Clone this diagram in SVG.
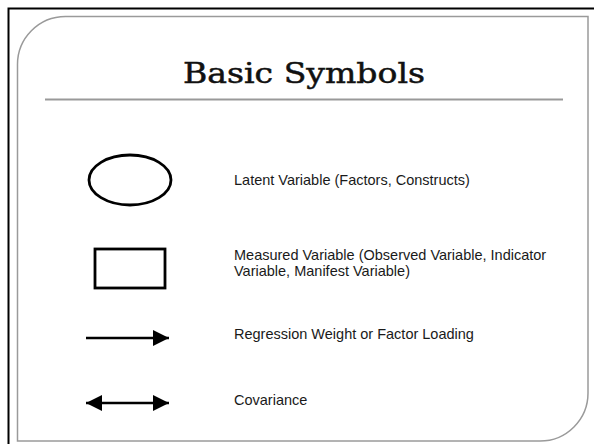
<svg xmlns="http://www.w3.org/2000/svg" width="594" height="444" viewBox="0 0 594 444">
  <style>
    .label { font-family: "Liberation Sans", Arial, sans-serif; font-size: 14.5px; fill: #1a1a1a; }
    .title { font-family: "DejaVu Serif", "Liberation Serif", serif; font-size: 28px; fill: #111; stroke: #111; stroke-width: 0.5; }
    .shape { fill: #fff; stroke: #000; stroke-width: 2.8; }
    .conn { stroke: #000; stroke-width: 2.6; fill: none; }
  </style>
  <defs>
    <marker id="head" viewBox="0 0 16 16" refX="16" refY="8" markerWidth="16" markerHeight="16" markerUnits="userSpaceOnUse" orient="auto-start-reverse">
      <path d="M0,0 L16,8 L0,16 Z" fill="#000"/>
    </marker>
  </defs>
  <rect width="594" height="444" fill="#fff"/>
  <!-- outer frame: only top and left edges are in view -->
  <path d="M8.5,444 L8.5,8.5 L594,8.5" fill="none" stroke="#000" stroke-width="2"/>
  <!-- inner panel with rounded top-left and bottom-right corners -->
  <path d="M17.5,65 A48,48 0 0 1 65.5,16.5 L588,16.5 L588,393 A48,48 0 0 1 540,441 L17.5,441 Z" fill="#fff" stroke="#9a9a9a" stroke-width="1.5"/>
  <!-- title -->
  <g id="title">
    <text class="title" x="304" y="83" text-anchor="middle" textLength="242" lengthAdjust="spacingAndGlyphs">Basic Symbols</text>
    <line x1="45" y1="99.5" x2="563" y2="99.5" stroke="#999" stroke-width="2"/>
  </g>
  <g id="latent">
    <ellipse class="shape" cx="130" cy="180" rx="41" ry="25"/>
    <text class="label" x="234" y="185">Latent Variable (Factors, Constructs)</text>
  </g>
  <g id="measured">
    <rect class="shape" x="95" y="249" width="70" height="39"/>
    <text class="label" x="234" y="260"><tspan x="234" y="260">Measured Variable (Observed Variable, Indicator</tspan><tspan x="234" y="276">Variable, Manifest Variable)</tspan></text>
  </g>
  <g id="connectors">
    <line class="conn" x1="86" y1="338" x2="169" y2="338" marker-end="url(#head)"/>
    <line class="conn" x1="86" y1="403" x2="169" y2="403" marker-start="url(#head)" marker-end="url(#head)"/>
  </g>
  <g id="regression">
    <text class="label" x="234" y="339">Regression Weight or Factor Loading</text>
  </g>
  <g id="covariance">
    <text class="label" x="234" y="405">Covariance</text>
  </g>
</svg>
